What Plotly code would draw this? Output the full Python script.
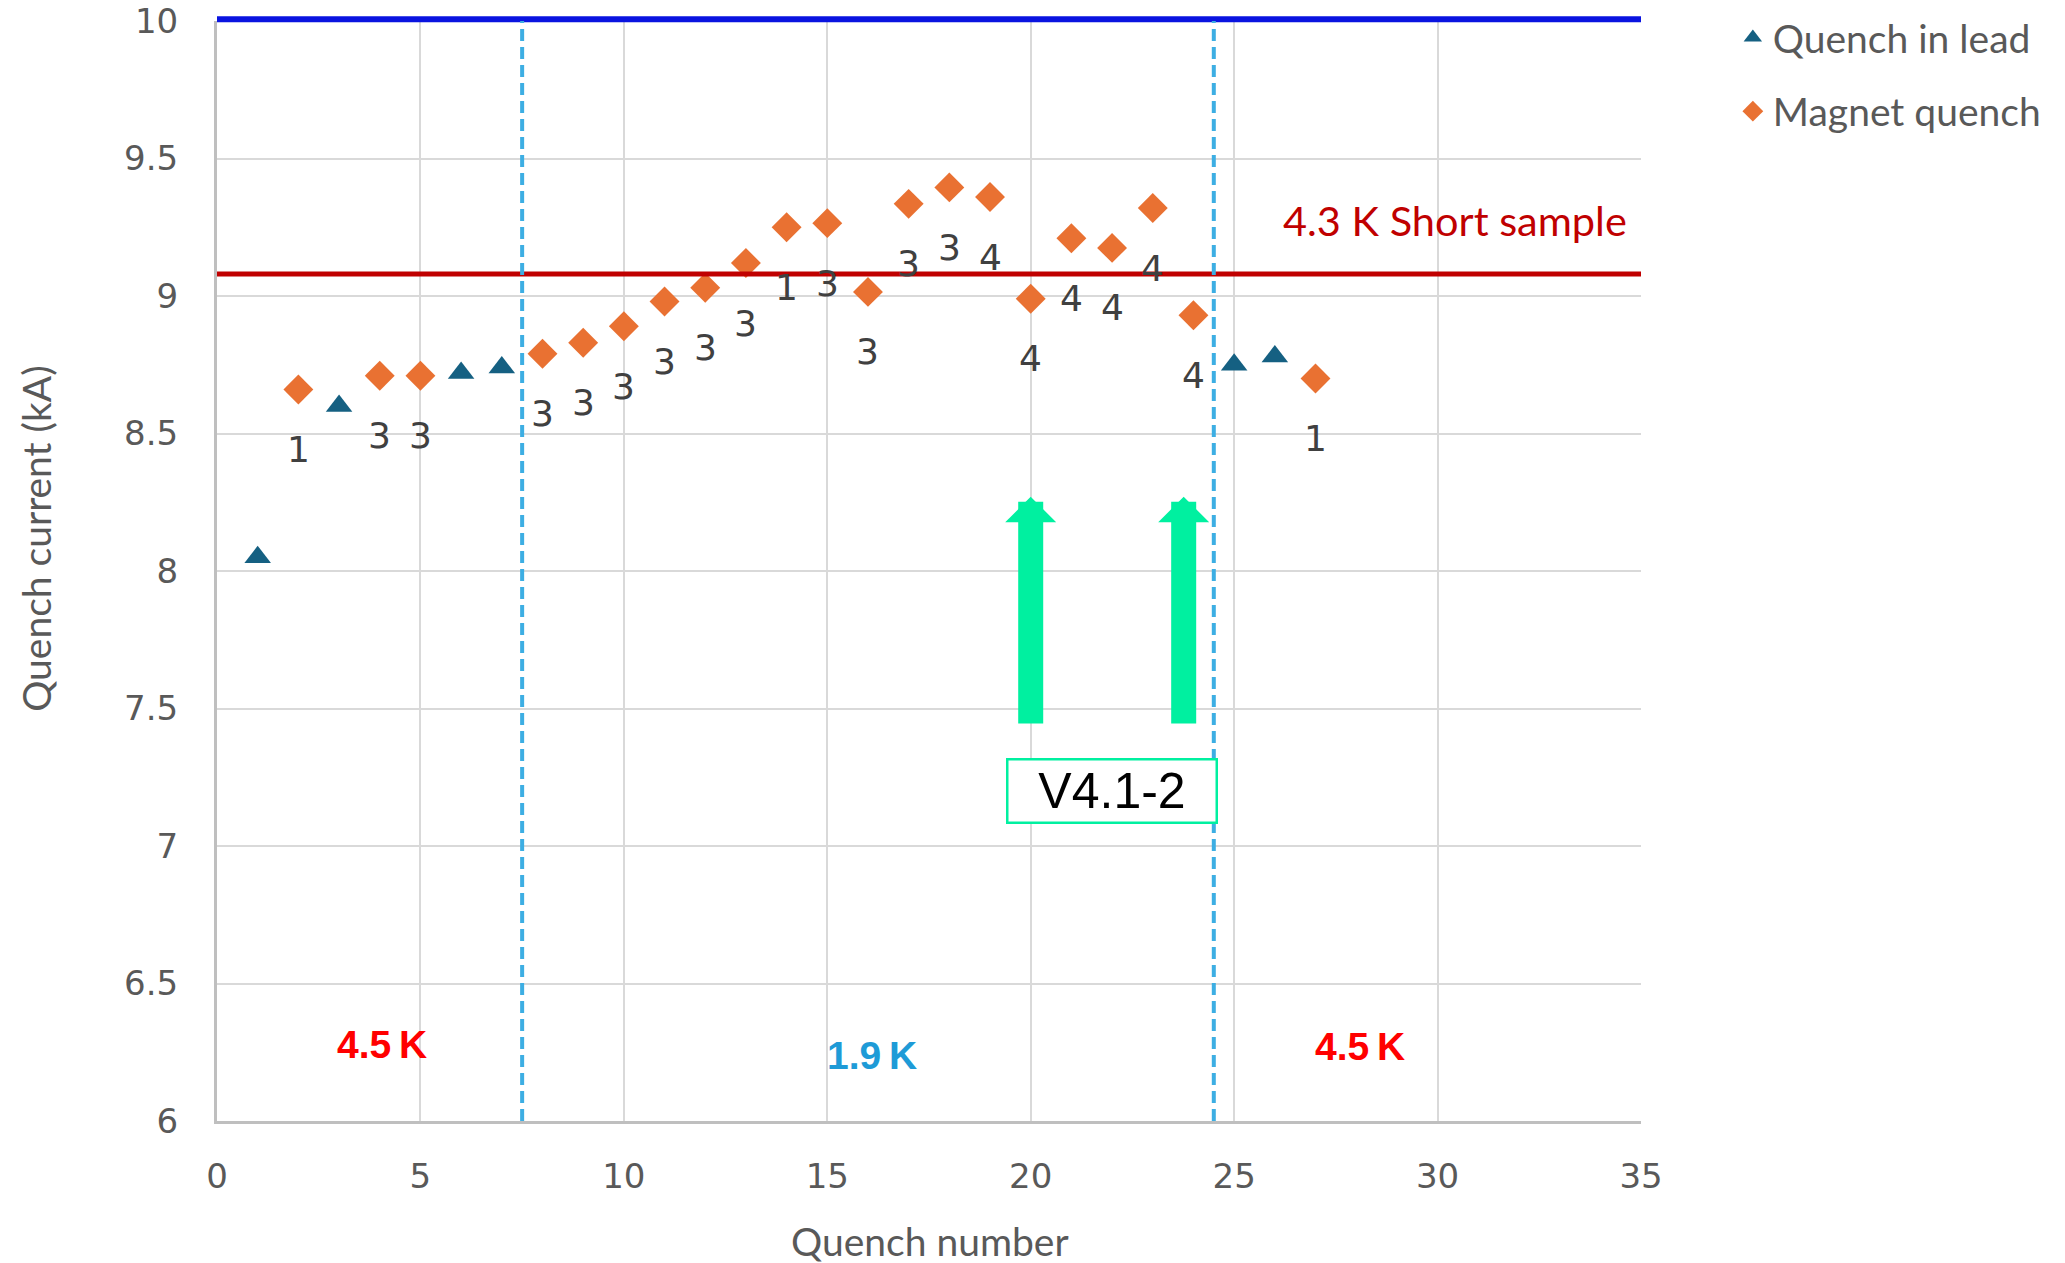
import plotly.graph_objects as go

# ---- data ----
lead_x = [1, 3, 6, 7, 25, 26]
lead_y = [8.05, 8.60, 8.72, 8.74, 8.75, 8.78]

mag_x = [2, 4, 5, 8, 9, 10, 11, 12, 13, 14, 15, 16, 17, 18, 19, 20, 21, 22, 23, 24, 27]
mag_y = [8.66, 8.71, 8.71, 8.79, 8.83, 8.89, 8.98, 9.03, 9.12, 9.25, 9.265, 9.015,
         9.335, 9.395, 9.36, 8.99, 9.21, 9.175, 9.32, 8.93, 8.70]
mag_labels = ["1", "3", "3", "3", "3", "3", "3", "3", "3", "1", "3", "3",
              "3", "3", "4", "4", "4", "4", "4", "4", "1"]

short_sample = 9.08
current_limit = 10.0
phase_bounds = [7.5, 24.5]

region_labels = ["4.5\u2009K", "1.9\u2009K", "4.5\u2009K"]
region_x = [4.05, 16.1, 28.1]
region_y = [6.28, 6.24, 6.27]
region_colors = ["#FF0000", "#1E9BD7", "#FF0000"]

arrow_x = [20.0, 23.76]
arrow_from = 7.44
arrow_to = 8.27
box_label = "V4.1-2"
box_x, box_y = 22.0, 7.20

GREEN = "#00F0A0"
GRAY_TXT = "#595959"

fig = go.Figure()
fig.add_trace(go.Scatter(
    x=lead_x, y=lead_y, mode="markers", name="Quench in lead",
    legendgroup="a",
    marker=dict(symbol="triangle-up", size=23, color="#156082"),
))
fig.add_trace(go.Scatter(
    x=mag_x, y=mag_y, mode="markers", name="Magnet quench",
    legendgroup="b",
    marker=dict(symbol="diamond", size=23, color="#E97132"),
))

shapes = [
    # upper limit line sits on the top edge of the plot area (y = current_limit = axis max)
    dict(type="line", xref="x", yref="paper", x0=0, x1=35, y0=1.0015, y1=1.0015,
         line=dict(color="#0A14E0", width=6), layer="above"),
    dict(type="line", xref="x", yref="y", x0=0, x1=35, y0=short_sample, y1=short_sample,
         line=dict(color="#C00000", width=5), layer="above"),
]
for b in phase_bounds:
    shapes.append(dict(type="line", xref="x", yref="paper", x0=b, x1=b, y0=0, y1=1,
                       line=dict(color="#3DAEE3", width=4, dash="12px,6px"), layer="above"))

annotations = []
for xv, yv, t in zip(mag_x, mag_y, mag_labels):
    annotations.append(dict(x=xv, y=yv, text=t, showarrow=False, yshift=-60,
                            font=dict(family="DejaVu Sans", size=36, color="#404040")))
for t, xv, yv, c in zip(region_labels, region_x, region_y, region_colors):
    annotations.append(dict(x=xv, y=yv, text="<b>" + t + "</b>", showarrow=False,
                            font=dict(family="Liberation Sans", size=39, color=c)))
for ax_ in arrow_x:
    annotations.append(dict(x=ax_, y=arrow_to, ax=ax_, ay=arrow_from, axref="x", ayref="y",
                            text="", showarrow=True, arrowhead=1, arrowwidth=25,
                            arrowsize=0.34, arrowcolor=GREEN, standoff=0, startstandoff=0))
annotations.append(dict(x=box_x, y=box_y, text=box_label, showarrow=False,
                        font=dict(family="Liberation Sans", size=50, color="#000000"),
                        bordercolor=GREEN, borderwidth=2.5, bgcolor="white",
                        width=207, height=61, borderpad=0))
annotations.append(dict(x=35, y=9.276, xanchor="right", xshift=-12, text="4.3 K Short sample",
                        showarrow=False, font=dict(family="Lato", size=41.5, color="#C00000")))
annotations.append(dict(xref="paper", yref="paper", x=0.5006, y=-0.109, xanchor="center",
                        yanchor="middle", text="Quench number",
                        showarrow=False, font=dict(family="Lato", size=39, color=GRAY_TXT)))
annotations.append(dict(xref="paper", yref="paper", x=-0.1273, y=0.529, xanchor="center",
                        yanchor="middle", text="Quench current (kA)",
                        textangle=-90, showarrow=False,
                        font=dict(family="Lato", size=39, color=GRAY_TXT)))

fig.update_layout(
    width=2065, height=1263,
    margin=dict(l=217, r=424, t=21, b=142, autoexpand=False),
    plot_bgcolor="white", paper_bgcolor="white",
    shapes=shapes, annotations=annotations,
    legend=dict(x=1.0645, y=1.014, xanchor="left", yanchor="top",
                font=dict(family="Lato", size=39, color=GRAY_TXT),
                traceorder="grouped", tracegroupgap=20, bgcolor="rgba(0,0,0,0)"),
    showlegend=True,
)
fig.update_xaxes(range=[0, 35], dtick=5, tick0=0, showgrid=True, gridcolor="#D9D9D9", gridwidth=2,
                 showline=True, linecolor="#BFBFBF", linewidth=3, zeroline=False,
                 ticks="", ticklabelstandoff=23, ticklabeloverflow="allow",
                 tickfont=dict(family="DejaVu Sans", size=34, color=GRAY_TXT))
fig.update_yaxes(range=[6, 10], dtick=0.5, tick0=6, showgrid=True, gridcolor="#D9D9D9", gridwidth=2,
                 showline=True, linecolor="#BFBFBF", linewidth=3, zeroline=False,
                 ticks="", ticklabelstandoff=29, ticklabeloverflow="allow",
                 tickfont=dict(family="DejaVu Sans", size=34, color=GRAY_TXT))

fig.write_html("out.html", config={"displayModeBar": False},
               post_script="document.body.style.margin='0';document.body.style.overflow='hidden';")
